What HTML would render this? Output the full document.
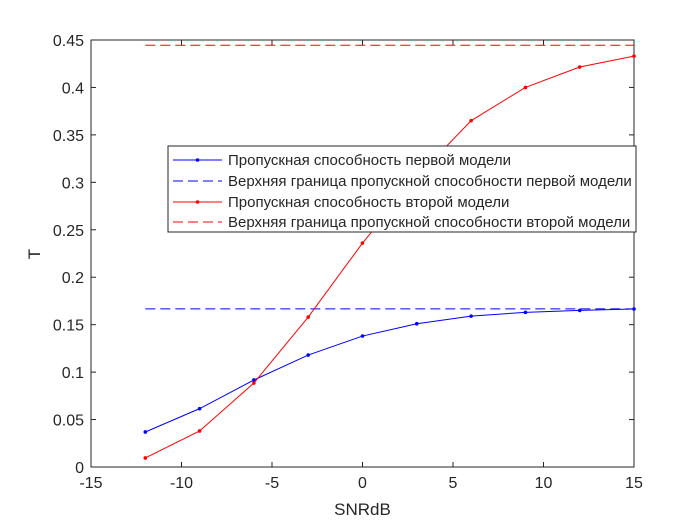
<!DOCTYPE html>
<html><head><meta charset="utf-8"><style>body{margin:0;background:#fff}svg{display:block}text{font-family:"Liberation Sans",Arial,sans-serif;fill:#262626}</style></head>
<body>
<svg id="c" width="700" height="525"></svg>
<script>
const snr=[-12,-9,-6,-3,0,3,6,9,12,15];
const model1=[0.0369,0.0615,0.0917,0.118,0.138,0.151,0.159,0.163,0.165,0.1665];
const model2=[0.0095,0.038,0.0885,0.158,0.236,0.3055,0.365,0.400,0.4215,0.433];
const bound1=1/6;
const bound2=4/9;
const xTicks=[-15,-10,-5,0,5,10,15];
const yTicks=[0,0.05,0.1,0.15,0.2,0.25,0.3,0.35,0.4,0.45];
const legendLabels=["Пропускная способность первой модели","Верхняя граница пропускной способности первой модели","Пропускная способность второй модели","Верхняя граница пропускной способности второй модели"];
const X0=91,X1=634,Y0=467,Y1=40;
const sx=v=>X0+(v+15)/30*(X1-X0);
const sy=v=>Y0-v/0.45*(Y0-Y1);
const svg=document.getElementById('c');const NS="http://www.w3.org/2000/svg";
function mk(t,a,p){const e=document.createElementNS(NS,t);for(const k in a)e.setAttribute(k,a[k]);(p||svg).appendChild(e);return e;}
let e=mk('rect',{x:X0,y:Y1,width:X1-X0,height:Y0-Y1,fill:'#fff',stroke:'#262626','stroke-width':1});


xTicks.forEach(v=>{const x=sx(v);mk('line',{x1:x,x2:x,y1:Y0,y2:Y0-5,stroke:'#262626'});mk('line',{x1:x,x2:x,y1:Y1,y2:Y1+5,stroke:'#262626'});
const t=mk('text',{x:x,y:Y0+21,'text-anchor':'middle','font-size':16});t.textContent=v;

});
yTicks.forEach(v=>{const y=sy(v);mk('line',{x1:X0,x2:X0+5,y1:y,y2:y,stroke:'#262626'});mk('line',{x1:X1,x2:X1-5,y1:y,y2:y,stroke:'#262626'});
const t=mk('text',{x:X0-7,y:y+6,'text-anchor':'end','font-size':16});t.textContent=v;

});
let xt=mk('text',{x:(X0+X1)/2,y:515,'text-anchor':'middle','font-size':17});xt.textContent='SNRdB';


let yt=mk('text',{x:40,y:254,'text-anchor':'middle','font-size':17,transform:'rotate(-90 40 254)'});yt.textContent='T';


function series(vals,col,name){const p=mk('polyline',{points:vals.map((v,i)=>sx(snr[i])+','+sy(v)).join(' '),fill:'none',stroke:col,'stroke-width':1});


vals.forEach((v,i)=>{const c=mk('circle',{cx:sx(snr[i]),cy:sy(v),r:1.8,fill:col});

});}
function bound(v,col,name){const l=mk('line',{x1:sx(snr[0]),x2:sx(snr[snr.length-1]),y1:sy(v),y2:sy(v),stroke:col,'stroke-dasharray':'10,5'});

}
bound(bound1,'#0000ff','bound-model-1');
bound(bound2,'#ff0000','bound-model-2');
series(model1,'#0000ff','line-model-1');
series(model2,'#ff0000','line-model-2');
const lg=mk('g',{});


mk('rect',{x:168,y:146,width:468,height:86,fill:'#fff',stroke:'#262626'},lg);
const cols=['#0000ff','#0000ff','#ff0000','#ff0000'],dash=[false,true,false,true],rows=[160,181,202,222];
legendLabels.forEach((s,i)=>{const y=rows[i];const l=mk('line',{x1:173,x2:222,y1:y,y2:y,stroke:cols[i]},lg);if(dash[i])l.setAttribute('stroke-dasharray','10,5');else mk('circle',{cx:197.5,cy:y,r:1.8,fill:cols[i]},lg);
const t=mk('text',{x:228,y:y+5,'font-size':15},lg);t.textContent=s;

});
</script>
</body></html>
